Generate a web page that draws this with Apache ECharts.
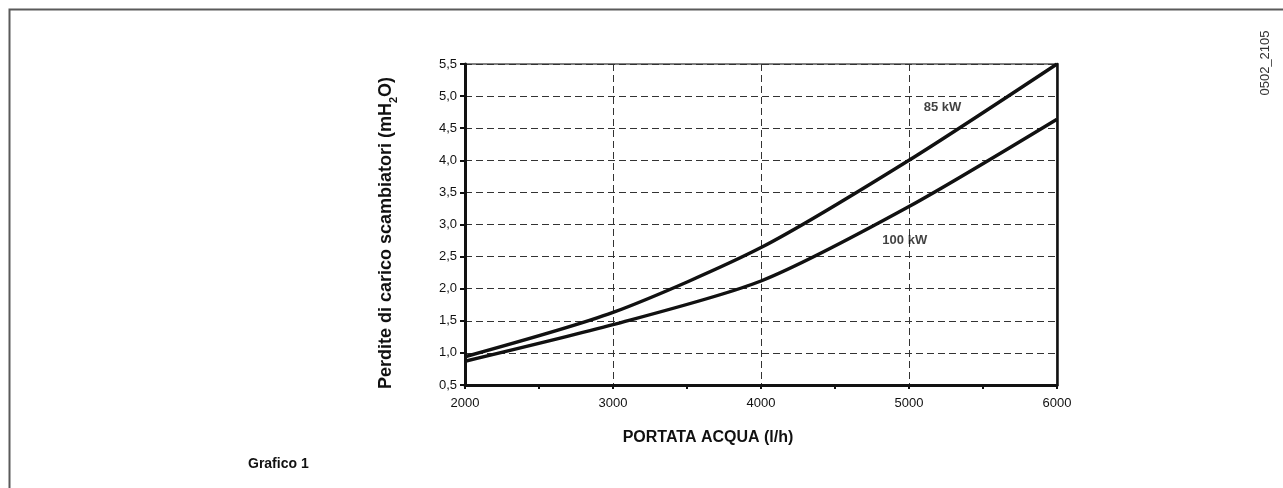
<!DOCTYPE html>
<html>
<head>
<meta charset="utf-8">
<title>Grafico 1</title>
<script src="https://cdn.jsdelivr.net/npm/echarts@6/dist/echarts.min.js"></script>
<style>
  html, body { margin: 0; padding: 0; background: #fff; }
  #chart { width: 1283px; height: 488px; }
</style>
</head>
<body>
<div id="chart"></div>
<script>
// Water flow (l/h) and heat-exchanger pressure drop (mH2O)
const flow = [2000, 3000, 4000, 5000, 6000];
const loss85 = [0.94, 1.63, 2.64, 4.00, 5.50];
const loss100 = [0.87, 1.44, 2.12, 3.28, 4.64];
const curveNames = ['85 kW', '100 kW'];
// Curve label anchors [flow, loss]
const labelAt = [[5100, 4.83], [4820, 2.75]];

const FONT = '"Liberation Sans", Arial, Helvetica, sans-serif';
const chart = echarts.init(document.getElementById('chart'), null, { renderer: 'canvas' });

const pair = (xs, ys) => xs.map((x, i) => [x, ys[i]]);
const curveStyle = { color: '#111', width: 3.4 };

chart.setOption({
  animation: false,
  backgroundColor: '#fff',
  grid: {
    left: 465, right: 226, top: 64, bottom: 103,
    show: true, borderColor: '#555', borderWidth: 1.5
  },
  xAxis: {
    type: 'value', min: 2000, max: 6000, interval: 1000,
    name: 'PORTATA ACQUA (l/h)', nameLocation: 'middle', nameGap: 45,
    nameTextStyle: { fontFamily: FONT, fontSize: 16, fontWeight: 'bold', color: '#111', padding: [0, 106, 0, 0] },
    axisLine: { lineStyle: { color: '#111', width: 3 } },
    axisTick: { show: true, inside: false, length: 4, lineStyle: { color: '#111', width: 2 } },
    minorTick: { show: true, splitNumber: 2, length: 4, lineStyle: { color: '#111', width: 2 } },
    axisLabel: { fontFamily: FONT, fontSize: 13, color: '#111', margin: 12, formatter: v => String(v) },
    splitLine: { show: true, lineStyle: { color: '#333', width: 1, type: [7, 4] } }
  },
  yAxis: [{
    type: 'value', min: 0.5, max: 5.5, interval: 0.5,
    name: '{t|Perdite di carico scambiatori (mH}{s|2}{t|O)}',
    nameLocation: 'middle', nameGap: 70, nameRotate: 90,
    nameTextStyle: {
      fontFamily: FONT, fontSize: 18, fontWeight: 'bold', color: '#111',
      padding: [0, 17, 0, 0],
      rich: {
        t: { fontFamily: FONT, fontSize: 18, fontWeight: 'bold', color: '#111', lineHeight: 22, verticalAlign: 'bottom' },
        s: { fontFamily: FONT, fontSize: 11, fontWeight: 'bold', color: '#111', lineHeight: 22, verticalAlign: 'bottom', padding: [0, 0, -4, 0] }
      }
    },
    axisLine: { show: true, lineStyle: { color: '#111', width: 3 } },
    axisTick: { show: true, length: 5, lineStyle: { color: '#111', width: 2 } },
    axisLabel: {
      fontFamily: FONT, fontSize: 13, color: '#111', margin: 8,
      formatter: v => v.toFixed(1).replace('.', ',')
    },
    splitLine: { show: true, lineStyle: { color: '#333', width: 1, type: [7, 4] } }
  }, {
    type: 'value', min: 0.5, max: 5.5, interval: 0.5, position: 'right',
    axisLine: { show: true, lineStyle: { color: '#111', width: 2.5 } },
    axisTick: { show: false }, axisLabel: { show: false }, splitLine: { show: false }
  }],
  series: [
    {
      name: curveNames[0], type: 'line', smooth: 0.25, showSymbol: false,
      data: pair(flow, loss85), lineStyle: curveStyle, z: 5
    },
    {
      name: curveNames[1], type: 'line', smooth: 0.25, showSymbol: false,
      data: pair(flow, loss100), lineStyle: curveStyle, z: 5
    },
    {
      type: 'scatter', symbolSize: 0, silent: true,
      data: labelAt.map((p, i) => ({ value: p, name: curveNames[i] })),
      label: {
        show: true, position: 'right', distance: 0, formatter: '{b}',
        fontFamily: FONT, fontSize: 13, fontWeight: 'bold', color: '#111'
      },
      z: 6
    }
  ],
  graphic: [
    {
      type: 'rect', left: 7, top: 7, silent: true,
      shape: { width: 1300, height: 500 },
      style: { fill: 'none', stroke: '#5a5a5a', lineWidth: 2 }
    },
    {
      type: 'text', left: 248, top: 457,
      style: { text: 'Grafico 1', fontFamily: FONT, fontSize: 14, fontWeight: 'bold', fill: '#111' }
    },
    {
      type: 'text', x: 1265, y: 63, rotation: Math.PI / 2,
      style: { text: '0502_2105', fontFamily: FONT, fontSize: 13, fill: '#333', align: 'center', verticalAlign: 'middle' }
    }
  ]
});
</script>
</body>
</html>
